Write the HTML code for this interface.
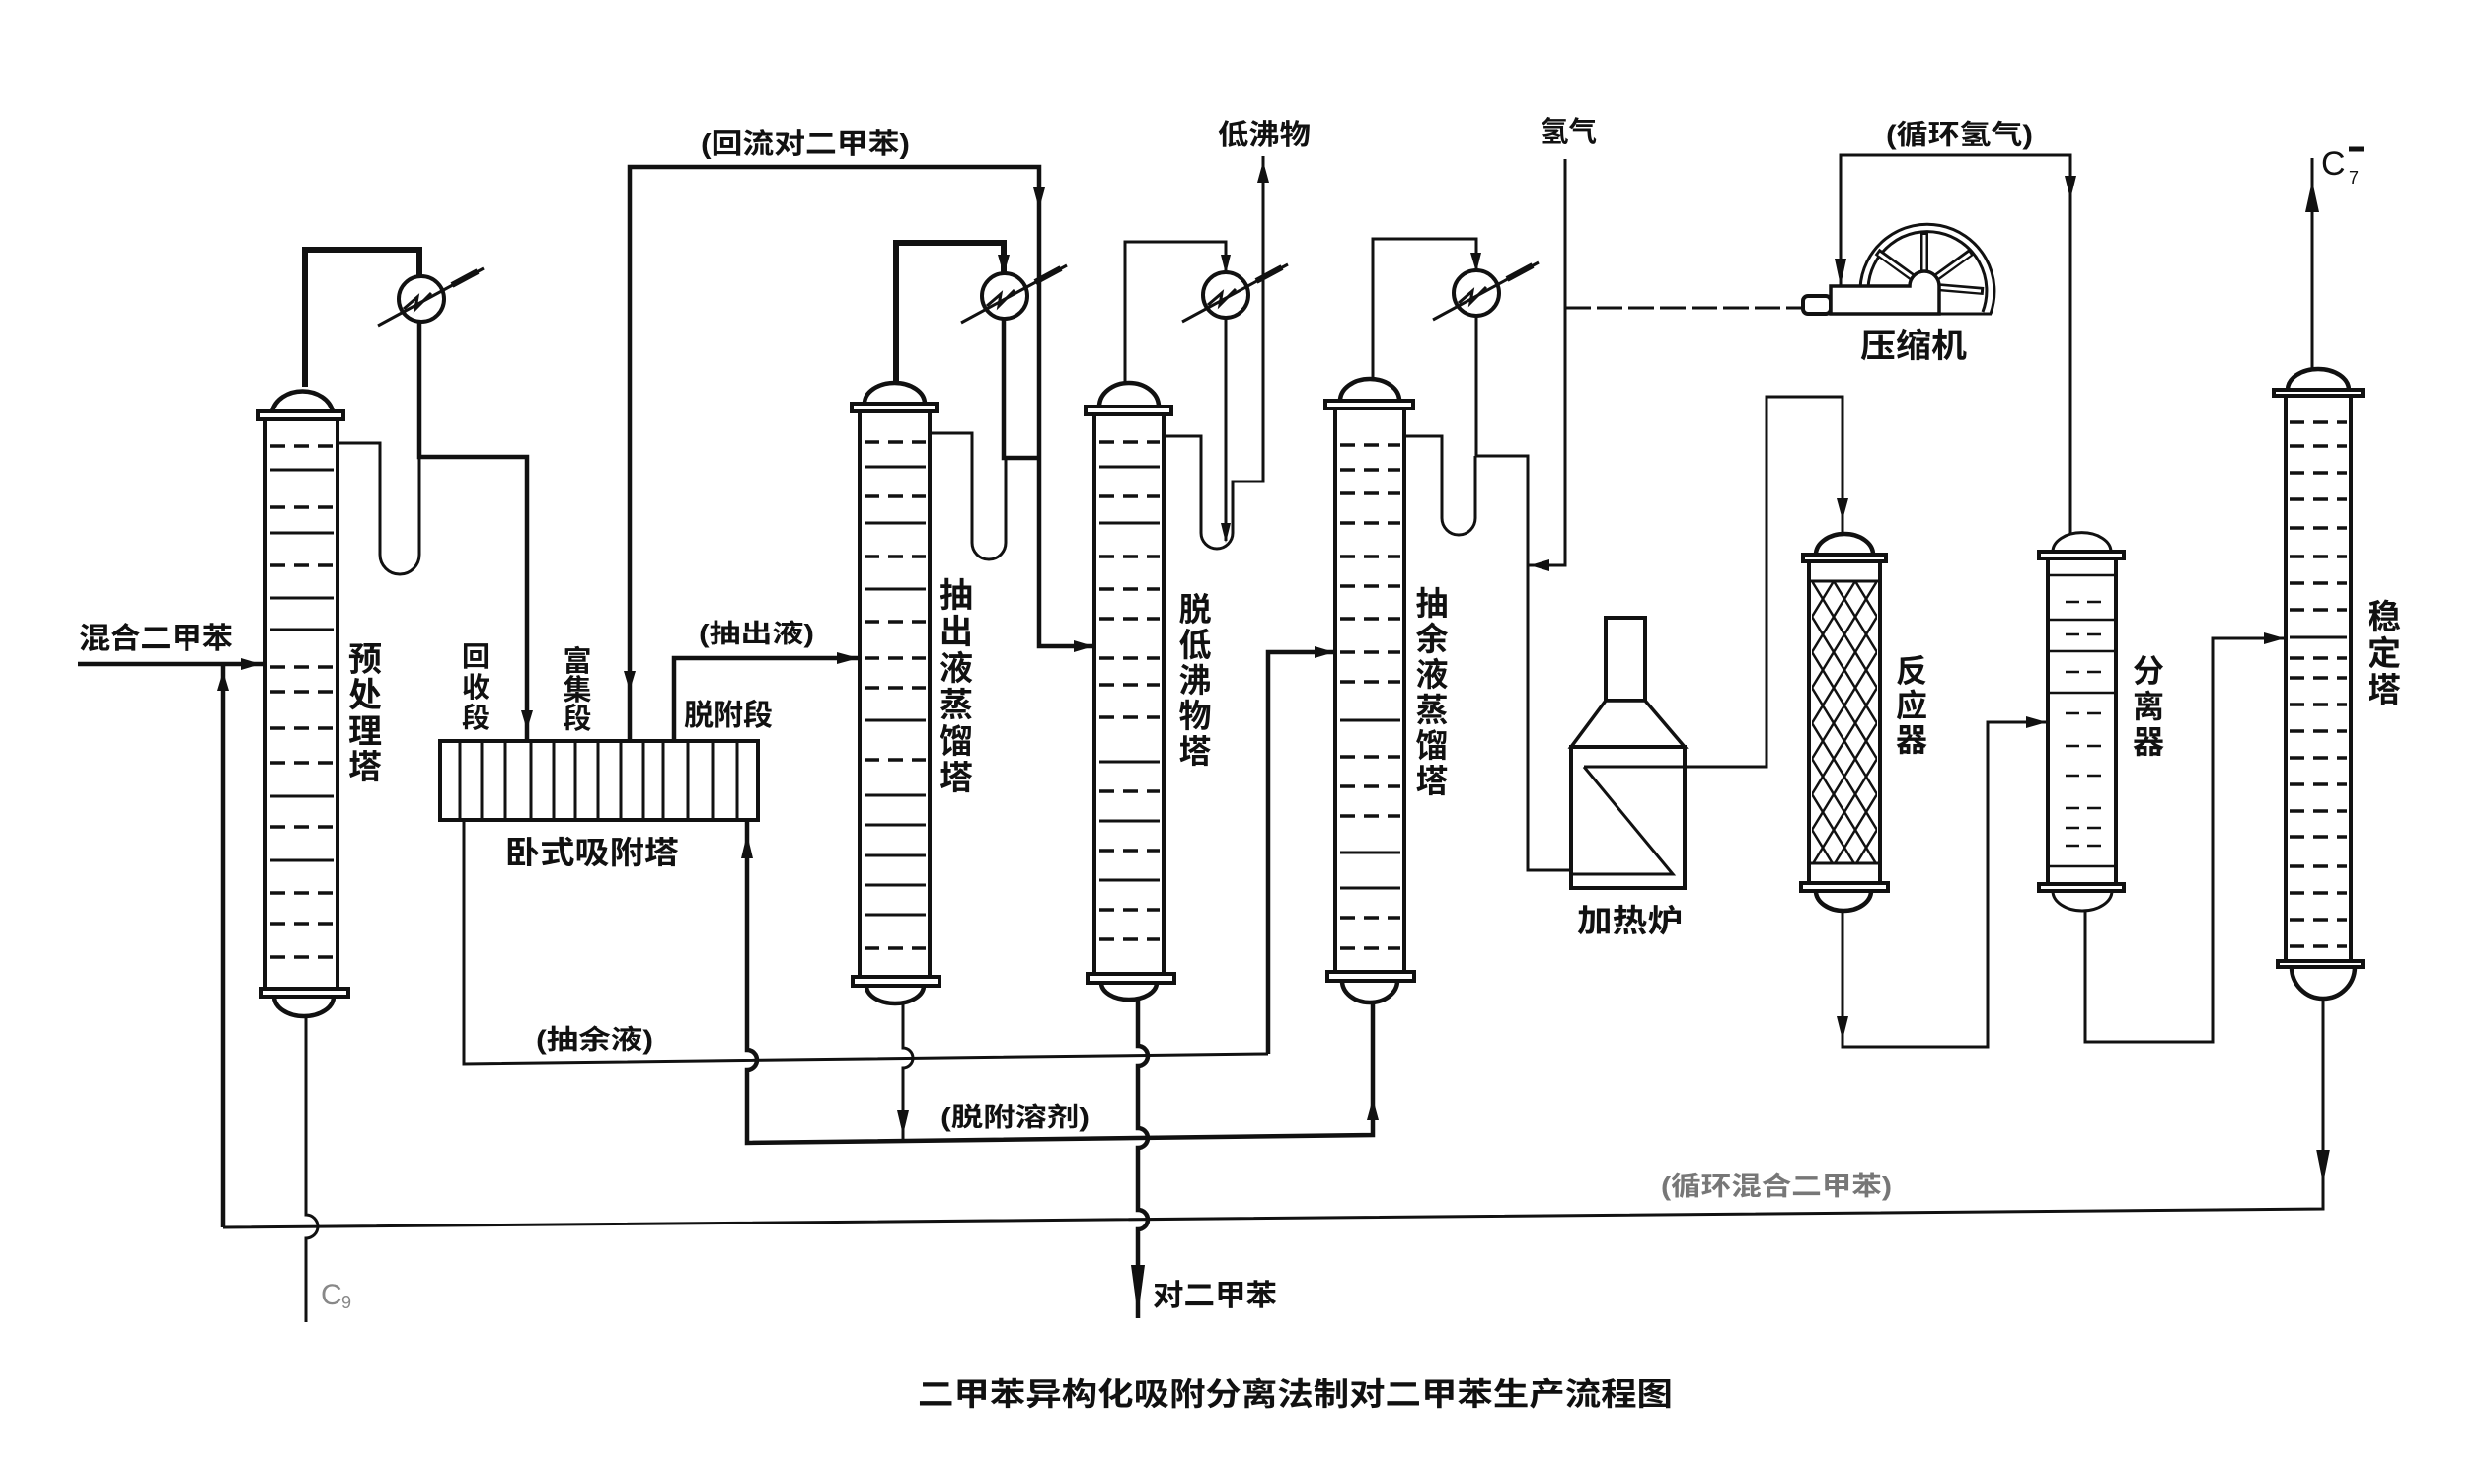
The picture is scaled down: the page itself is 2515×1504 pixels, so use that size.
<!DOCTYPE html>
<html><head><meta charset="utf-8"><style>
html,body{margin:0;padding:0;background:#fff;}
svg{display:block;}
text{font-family:"Liberation Sans","Noto Sans CJK SC",sans-serif;font-weight:700;fill:#111;}
.p{fill:none;stroke:#111;stroke-width:3;stroke-linejoin:miter;}
.k{fill:none;stroke:#111;stroke-width:6;}
.m{fill:none;stroke:#111;stroke-width:4.5;}
.c{fill:#fff;stroke:#111;stroke-width:4;}
.tr{stroke:#111;stroke-width:3.5;stroke-dasharray:15 9;}
.ts{stroke:#111;stroke-width:3;}
.a{fill:#111;}
</style></head><body>
<svg width="2515" height="1504" viewBox="0 0 2515 1504" xmlns="http://www.w3.org/2000/svg">
<defs>
<pattern id="mesh" width="22" height="36" patternUnits="userSpaceOnUse" x="1836" y="589">
<path d="M0,0 L22,36 M22,0 L0,36" stroke="#111" stroke-width="2.5" fill="none"/>
</pattern>
</defs>
<rect width="2515" height="1504" fill="#fff"/>

<!-- ===== Pipes ===== -->
<path class="k" d="M309,392 V253 H425 V280"/>
<path class="m" d="M425,326 V463 H534 V751"/>
<path class="p" d="M342,449 H385 V562 A20,20 0 0 0 425,562 V463"/>
<path class="m" d="M79,673 H269"/>
<path class="m" d="M226,1244 V673"/>
<path class="p" d="M310,1030 V1231 A12,12 0 0 1 310,1255 V1340" stroke-width="2.5"/>
<path class="m" d="M638,751 V169 H1053 V655 H1109"/>
<path class="m" d="M683,751 V667 H871"/>
<path class="k" d="M908,388 V246 H1017 V277"/>
<path class="m" d="M1017,323 V464 H1053"/>
<path class="p" d="M942,439 H985 V550 A17,17 0 0 0 1019,550 V464"/>
<path class="p" d="M1140,388 V245 H1242 V276"/>
<path class="p" d="M1242,322 V548"/>
<path class="p" d="M1179,442 H1217 V540 A16,16 0 0 0 1249,540 V488 H1280 V158"/>
<path class="p" d="M1391,384 V242 H1496 V274"/>
<path class="p" d="M1496,320 V462 H1548 V882 H1593"/>
<path class="p" d="M1423,442 H1461 V525 A17,17 0 0 0 1495,525 V462"/>
<path class="p" d="M1586,161 V573 H1548"/>
<path class="p" d="M1586,312 H1827" stroke-dasharray="26 6" stroke-width="2.5"/>
<path class="m" d="M1285,1068 V661 H1353" stroke-width="3.5"/>
<path class="p" d="M470,831 V1078 L1285,1068"/>
<path class="m" d="M757,831 V1064 A10,10 0 0 1 757,1084 V1158 L1391,1150 V1016" stroke-width="3.5"/>
<path class="p" d="M915,1017 V1062 A10,10 0 0 1 915,1082 V1155"/>
<path class="m" d="M1153,1013 V1060 A10,10 0 0 1 1153,1080 V1143 A10,10 0 0 1 1153,1163 V1226 A10,10 0 0 1 1153,1246 V1336" stroke-width="3"/>
<path class="p" d="M2354,1012 V1225 L226,1244" stroke-width="3.5"/>
<path class="p" d="M1707,777 H1790 V402 H1867 V541"/>
<path class="p" d="M1867,923 V1061 H2014 V732 H2075"/>
<path class="p" d="M2098,540 V157 H1865 V290"/>
<path class="p" d="M2113,923 V1056 H2242 V647 H2316"/>
<path class="p" d="M2343,374 V160"/>

<!-- ===== Arrows ===== -->
<polygon class="a" points="244,667 244,679 264,673"/>
<polygon class="a" points="220,700 232,700 226,680"/>
<polygon class="a" points="528,720 540,720 534,740"/>
<polygon class="a" points="632,680 644,680 638,700"/>
<polygon class="a" points="1047,190 1059,190 1053,212"/>
<polygon class="a" points="848,661 848,673 870,667"/>
<polygon class="a" points="1011,258 1023,258 1017,279"/>
<polygon class="a" points="1237,258 1247,258 1242,278"/>
<polygon class="a" points="1490,256 1501,256 1496,276"/>
<polygon class="a" points="1274,185 1286,185 1280,163"/>
<polygon class="a" points="1237,530 1247,530 1242,550"/>
<polygon class="a" points="1570,567 1570,579 1550,573"/>
<polygon class="a" points="1088,649 1088,661 1108,655"/>
<polygon class="a" points="1332,655 1332,667 1352,661"/>
<polygon class="a" points="1861,505 1873,505 1867,527"/>
<polygon class="a" points="2092,178 2104,178 2098,202"/>
<polygon class="a" points="1859,262 1871,262 1865,290"/>
<polygon class="a" points="1861,1030 1873,1030 1867,1054"/>
<polygon class="a" points="2053,726 2053,738 2074,732"/>
<polygon class="a" points="2294,641 2294,653 2315,647"/>
<polygon class="a" points="2336,215 2350,215 2343,183"/>
<polygon class="a" points="2347,1165 2361,1165 2354,1200"/>
<polygon class="a" points="1385,1135 1397,1135 1391,1113"/>
<polygon class="a" points="751,870 763,870 757,845"/>
<polygon class="a" points="909,1125 921,1125 915,1150"/>
<polygon class="a" points="1146,1282 1160,1282 1153,1334"/>

<!-- ===== Condensers ===== -->
<g>
<circle class="c" cx="427" cy="303" r="23"/>
<path class="p" d="M383,330 L490,272"/><path class="k" d="M458,289 L484,275"/>
<path class="p" d="M409,313 L423,301 L421,313 L437,297"/>
</g>
<g>
<circle class="c" cx="1018" cy="300" r="23"/>
<path class="p" d="M974,327 L1081,269"/><path class="k" d="M1049,286 L1075,272"/>
<path class="p" d="M1000,310 L1014,298 L1012,310 L1028,294"/>
</g>
<g>
<circle class="c" cx="1242" cy="299" r="23"/>
<path class="p" d="M1198,326 L1305,268"/><path class="k" d="M1273,285 L1299,271"/>
<path class="p" d="M1224,309 L1238,297 L1236,309 L1252,293"/>
</g>
<g>
<circle class="c" cx="1496" cy="297" r="23"/>
<path class="p" d="M1452,324 L1559,266"/><path class="k" d="M1527,283 L1553,269"/>
<path class="p" d="M1478,307 L1492,295 L1490,307 L1506,291"/>
</g>

<!-- ===== Column 1 ===== -->
<path class="m" d="M276,417 A31,25 0 0 1 337,417" fill="#fff"/>
<rect class="c" x="261" y="417" width="87" height="8"/>
<rect class="c" x="269" y="425" width="73" height="577"/>
<rect class="c" x="264" y="1002" width="89" height="8"/>
<path class="m" d="M278,1010 A30,20 0 0 0 338,1010"/>
<g>
<line class="tr" x1="274" x2="338" y1="452" y2="452"/><line class="ts" x1="274" x2="338" y1="476" y2="476"/>
<line class="tr" x1="274" x2="338" y1="514" y2="514"/><line class="ts" x1="274" x2="338" y1="540" y2="540"/>
<line class="tr" x1="274" x2="338" y1="573" y2="573"/><line class="ts" x1="274" x2="338" y1="606" y2="606"/>
<line class="ts" x1="274" x2="338" y1="638" y2="638"/><line class="tr" x1="274" x2="338" y1="676" y2="676"/>
<line class="tr" x1="274" x2="338" y1="701" y2="701"/><line class="tr" x1="274" x2="338" y1="738" y2="738"/>
<line class="tr" x1="274" x2="338" y1="773" y2="773"/><line class="ts" x1="274" x2="338" y1="807" y2="807"/>
<line class="tr" x1="274" x2="338" y1="838" y2="838"/><line class="ts" x1="274" x2="338" y1="872" y2="872"/>
<line class="tr" x1="274" x2="338" y1="905" y2="905"/><line class="tr" x1="274" x2="338" y1="936" y2="936"/>
<line class="tr" x1="274" x2="338" y1="970" y2="970"/>
</g>

<!-- ===== Column 2 ===== -->
<path class="m" d="M876,409 A30.5,21 0 0 1 937,409" fill="#fff"/>
<rect class="c" x="863" y="409" width="86" height="8"/>
<rect class="c" x="871" y="417" width="71" height="573"/>
<rect class="c" x="864" y="990" width="88" height="9"/>
<path class="m" d="M878,999 A29,18 0 0 0 936,999"/>
<g>
<line class="tr" x1="876" x2="938" y1="448" y2="448"/><line class="ts" x1="876" x2="938" y1="473" y2="473"/>
<line class="tr" x1="876" x2="938" y1="503" y2="503"/><line class="ts" x1="876" x2="938" y1="530" y2="530"/>
<line class="tr" x1="876" x2="938" y1="564" y2="564"/><line class="ts" x1="876" x2="938" y1="597" y2="597"/>
<line class="tr" x1="876" x2="938" y1="630" y2="630"/><line class="tr" x1="876" x2="938" y1="667" y2="667"/>
<line class="tr" x1="876" x2="938" y1="697" y2="697"/><line class="ts" x1="876" x2="938" y1="730" y2="730"/>
<line class="tr" x1="876" x2="938" y1="770" y2="770"/><line class="ts" x1="876" x2="938" y1="806" y2="806"/>
<line class="ts" x1="876" x2="938" y1="836" y2="836"/><line class="ts" x1="876" x2="938" y1="867" y2="867"/>
<line class="ts" x1="876" x2="938" y1="897" y2="897"/><line class="ts" x1="876" x2="938" y1="927" y2="927"/>
<line class="tr" x1="876" x2="938" y1="961" y2="961"/>
</g>

<!-- ===== Column 3 ===== -->
<path class="m" d="M1114,412 A30,24 0 0 1 1174,412" fill="#fff"/>
<rect class="c" x="1100" y="412" width="87" height="8"/>
<rect class="c" x="1109" y="420" width="70" height="567"/>
<rect class="c" x="1102" y="987" width="88" height="9"/>
<path class="m" d="M1116,996 A28,17 0 0 0 1172,996"/>
<g>
<line class="tr" x1="1114" x2="1175" y1="448" y2="448"/><line class="ts" x1="1114" x2="1175" y1="473" y2="473"/>
<line class="tr" x1="1114" x2="1175" y1="503" y2="503"/><line class="ts" x1="1114" x2="1175" y1="530" y2="530"/>
<line class="tr" x1="1114" x2="1175" y1="564" y2="564"/><line class="tr" x1="1114" x2="1175" y1="597" y2="597"/>
<line class="tr" x1="1114" x2="1175" y1="627" y2="627"/><line class="tr" x1="1114" x2="1175" y1="667" y2="667"/>
<line class="tr" x1="1114" x2="1175" y1="694" y2="694"/><line class="tr" x1="1114" x2="1175" y1="727" y2="727"/>
<line class="ts" x1="1114" x2="1175" y1="772" y2="772"/><line class="tr" x1="1114" x2="1175" y1="802" y2="802"/>
<line class="ts" x1="1114" x2="1175" y1="832" y2="832"/><line class="tr" x1="1114" x2="1175" y1="862" y2="862"/>
<line class="ts" x1="1114" x2="1175" y1="892" y2="892"/><line class="tr" x1="1114" x2="1175" y1="922" y2="922"/>
<line class="tr" x1="1114" x2="1175" y1="952" y2="952"/>
</g>

<!-- ===== Column 4 ===== -->
<path class="m" d="M1358,406 A30,22 0 0 1 1418,406" fill="#fff"/>
<rect class="c" x="1343" y="406" width="89" height="8"/>
<rect class="c" x="1353" y="414" width="70" height="571"/>
<rect class="c" x="1345" y="985" width="88" height="9"/>
<path class="m" d="M1360,994 A28,22 0 0 0 1416,994"/>
<g>
<line class="tr" x1="1358" x2="1419" y1="451" y2="451"/><line class="tr" x1="1358" x2="1419" y1="476" y2="476"/>
<line class="tr" x1="1358" x2="1419" y1="500" y2="500"/><line class="tr" x1="1358" x2="1419" y1="530" y2="530"/>
<line class="tr" x1="1358" x2="1419" y1="564" y2="564"/><line class="tr" x1="1358" x2="1419" y1="594" y2="594"/>
<line class="tr" x1="1358" x2="1419" y1="627" y2="627"/><line class="tr" x1="1358" x2="1419" y1="661" y2="661"/>
<line class="tr" x1="1358" x2="1419" y1="691" y2="691"/><line class="ts" x1="1358" x2="1419" y1="730" y2="730"/>
<line class="tr" x1="1358" x2="1419" y1="767" y2="767"/><line class="tr" x1="1358" x2="1419" y1="797" y2="797"/>
<line class="tr" x1="1358" x2="1419" y1="827" y2="827"/><line class="ts" x1="1358" x2="1419" y1="864" y2="864"/>
<line class="ts" x1="1358" x2="1419" y1="900" y2="900"/><line class="tr" x1="1358" x2="1419" y1="930" y2="930"/>
<line class="tr" x1="1358" x2="1419" y1="961" y2="961"/>
</g>

<!-- ===== Adsorber ===== -->
<rect class="c" x="446" y="751" width="322" height="80"/>
<g stroke="#111" stroke-width="3">
<line x1="466" x2="466" y1="751" y2="831"/><line x1="488" x2="488" y1="751" y2="831"/>
<line x1="512" x2="512" y1="751" y2="831"/><line x1="538" x2="538" y1="751" y2="831"/>
<line x1="561" x2="561" y1="751" y2="831"/><line x1="583" x2="583" y1="751" y2="831"/>
<line x1="606" x2="606" y1="751" y2="831"/><line x1="629" x2="629" y1="751" y2="831"/>
<line x1="652" x2="652" y1="751" y2="831"/><line x1="672" x2="672" y1="751" y2="831"/>
<line x1="697" x2="697" y1="751" y2="831"/><line x1="722" x2="722" y1="751" y2="831"/>
<line x1="747" x2="747" y1="751" y2="831"/>
</g>

<!-- ===== Compressor ===== -->
<rect class="c" x="1827" y="300" width="28" height="18" rx="5" stroke-width="3"/>
<path class="p" d="M1885,292 A68,68 0 1 1 2017,318" stroke-width="4"/>
<path class="p" d="M1893,292 A60,60 0 1 1 2009,316" stroke-width="3"/>
<g stroke-linecap="butt">
<line x1="1950" y1="290" x2="1902" y2="255" stroke="#111" stroke-width="8"/>
<line x1="1950" y1="290" x2="1950" y2="235" stroke="#111" stroke-width="8"/>
<line x1="1950" y1="290" x2="1998" y2="255" stroke="#111" stroke-width="8"/>
<line x1="1950" y1="290" x2="2010" y2="295" stroke="#111" stroke-width="8"/>
<line x1="1950" y1="290" x2="1904" y2="257" stroke="#fff" stroke-width="3"/>
<line x1="1950" y1="290" x2="1950" y2="238" stroke="#fff" stroke-width="3"/>
<line x1="1950" y1="290" x2="1996" y2="257" stroke="#fff" stroke-width="3"/>
<line x1="1950" y1="290" x2="2007" y2="295" stroke="#fff" stroke-width="3"/>
</g>
<path d="M1855,318 V290 H1935 A15,15 0 0 1 1965,290 V318 Z" fill="#fff" stroke="#111" stroke-width="3.5"/>
<path class="p" d="M1855,318 H2018" stroke-width="4"/>

<!-- ===== Furnace ===== -->
<rect class="c" x="1627" y="626" width="40" height="84" stroke-width="3.5"/>
<polygon points="1627,710 1667,710 1707,757 1592,757" fill="#fff" stroke="#111" stroke-width="3.5"/>
<rect class="c" x="1592" y="757" width="115" height="143" stroke-width="3.5"/>
<path class="p" d="M1605,777 H1707 M1605,777 L1695,886 H1594"/>

<!-- ===== Reactor ===== -->
<path class="m" d="M1840,562 A29,21 0 0 1 1898,562" fill="#fff"/>
<rect class="c" x="1827" y="562" width="84" height="7"/>
<rect class="c" x="1833" y="569" width="72" height="326"/>
<rect x="1836" y="589" width="66" height="286" fill="url(#mesh)"/>
<line class="ts" x1="1833" x2="1905" y1="589" y2="589"/>
<line class="ts" x1="1833" x2="1905" y1="875" y2="875" stroke-width="4"/>
<rect class="c" x="1825" y="895" width="88" height="8"/>
<path class="m" d="M1840,903 A28,20 0 0 0 1896,903"/>

<!-- ===== Separator ===== -->
<path class="p" d="M2080,559 A29,19 0 0 1 2139,559" fill="#fff" stroke-width="3.5"/>
<rect class="c" x="2066" y="559" width="86" height="7" stroke-width="3"/>
<rect class="c" x="2075" y="566" width="69" height="330" stroke-width="3"/>
<rect class="c" x="2066" y="896" width="86" height="7" stroke-width="3"/>
<path class="p" d="M2080,903 A30,20 0 0 0 2140,903"/>
<g stroke="#111">
<line x1="2076" x2="2143" y1="583" y2="583" stroke-width="2.5"/>
<line x1="2076" x2="2143" y1="628" y2="628" stroke-width="2.5"/>
<line x1="2076" x2="2143" y1="660" y2="660" stroke-width="2.5"/>
<line x1="2076" x2="2143" y1="702" y2="702" stroke-width="2.5"/>
<line x1="2076" x2="2143" y1="878" y2="878" stroke-width="2.5"/>
<g stroke-width="2.5" stroke-dasharray="14 8">
<line x1="2093" x2="2129" y1="610" y2="610"/><line x1="2093" x2="2129" y1="643" y2="643"/>
<line x1="2093" x2="2129" y1="681" y2="681"/><line x1="2093" x2="2129" y1="723" y2="723"/>
<line x1="2093" x2="2129" y1="756" y2="756"/><line x1="2093" x2="2129" y1="786" y2="786"/>
<line x1="2093" x2="2129" y1="819" y2="819"/><line x1="2093" x2="2129" y1="839" y2="839"/>
<line x1="2093" x2="2129" y1="857" y2="857"/>
</g>
</g>

<!-- ===== Stabilizer ===== -->
<path class="m" d="M2318,395 A31,21 0 0 1 2380,395" fill="#fff"/>
<rect class="c" x="2304" y="395" width="90" height="6"/>
<rect class="c" x="2316" y="401" width="66" height="573" stroke-width="3.5"/>
<rect class="c" x="2308" y="974" width="86" height="6"/>
<path class="m" d="M2322,980 A32,32 0 0 0 2386,980"/>
<g>
<line class="tr" x1="2320" x2="2378" y1="428" y2="428"/><line class="tr" x1="2320" x2="2378" y1="452" y2="452"/>
<line class="tr" x1="2320" x2="2378" y1="479" y2="479"/><line class="tr" x1="2320" x2="2378" y1="506" y2="506"/>
<line class="tr" x1="2320" x2="2378" y1="535" y2="535"/><line class="tr" x1="2320" x2="2378" y1="564" y2="564"/>
<line class="tr" x1="2320" x2="2378" y1="591" y2="591"/><line class="tr" x1="2320" x2="2378" y1="618" y2="618"/>
<line class="ts" x1="2320" x2="2378" y1="646" y2="646"/><line class="tr" x1="2320" x2="2378" y1="667" y2="667"/>
<line class="tr" x1="2320" x2="2378" y1="687" y2="687"/><line class="tr" x1="2320" x2="2378" y1="714" y2="714"/>
<line class="tr" x1="2320" x2="2378" y1="741" y2="741"/><line class="tr" x1="2320" x2="2378" y1="768" y2="768"/>
<line class="tr" x1="2320" x2="2378" y1="795" y2="795"/><line class="tr" x1="2320" x2="2378" y1="822" y2="822"/>
<line class="tr" x1="2320" x2="2378" y1="848" y2="848"/><line class="tr" x1="2320" x2="2378" y1="878" y2="878"/>
<line class="tr" x1="2320" x2="2378" y1="905" y2="905"/><line class="tr" x1="2320" x2="2378" y1="932" y2="932"/>
<line class="tr" x1="2320" x2="2378" y1="959" y2="959"/>
</g>

<!-- ===== Labels ===== -->
<text x="80" y="657" font-size="30" textLength="156" lengthAdjust="spacingAndGlyphs">混合二甲苯</text>
<g font-size="34" text-anchor="middle">
<text x="370" y="680">预</text><text x="370" y="716">处</text><text x="370" y="753">理</text><text x="370" y="789">塔</text>
</g>
<g font-size="28" text-anchor="middle" style="font-weight:400">
<text x="482" y="675">回</text><text x="482" y="706">收</text><text x="482" y="737">段</text>
</g>
<g font-size="29" text-anchor="middle">
<text x="585" y="680">富</text><text x="585" y="709">集</text><text x="585" y="738">段</text>
</g>
<text x="693" y="735" font-size="30" textLength="90" lengthAdjust="spacingAndGlyphs">脱附段</text>
<text x="708" y="651" font-size="26" textLength="117" lengthAdjust="spacingAndGlyphs">(抽出液)</text>
<text x="512" y="875" font-size="32" textLength="176" lengthAdjust="spacingAndGlyphs">卧式吸附塔</text>
<text x="710" y="155" font-size="28" textLength="212" lengthAdjust="spacingAndGlyphs">(回流对二甲苯)</text>
<text x="1234" y="146" font-size="28" textLength="94" lengthAdjust="spacingAndGlyphs">低沸物</text>
<text x="1561" y="143" font-size="28" textLength="57" lengthAdjust="spacingAndGlyphs">氢气</text>
<text x="1911" y="146" font-size="27" textLength="149" lengthAdjust="spacingAndGlyphs">(循环氢气)</text>
<text x="1885" y="362" font-size="34" textLength="108" lengthAdjust="spacingAndGlyphs">压缩机</text>
<g font-size="34" text-anchor="middle">
<text x="969" y="615">抽</text><text x="969" y="652">出</text><text x="969" y="689">液</text><text x="969" y="726">蒸</text><text x="969" y="763">馏</text><text x="969" y="800">塔</text>
</g>
<g font-size="33" text-anchor="middle">
<text x="1211" y="629">脱</text><text x="1211" y="665">低</text><text x="1211" y="701">沸</text><text x="1211" y="737">物</text><text x="1211" y="773">塔</text>
</g>
<g font-size="33" text-anchor="middle">
<text x="1451" y="623">抽</text><text x="1451" y="659">余</text><text x="1451" y="695">液</text><text x="1451" y="731">蒸</text><text x="1451" y="767">馏</text><text x="1451" y="803">塔</text>
</g>
<text x="1598" y="944" font-size="32" textLength="107" lengthAdjust="spacingAndGlyphs">加热炉</text>
<g font-size="32" text-anchor="middle" style="font-weight:400">
<text x="1937" y="691">反</text><text x="1937" y="726">应</text><text x="1937" y="761">器</text>
<text x="2177" y="691">分</text><text x="2177" y="727">离</text><text x="2177" y="763">器</text>
</g>
<g font-size="34" text-anchor="middle">
<text x="2416" y="637">稳</text><text x="2416" y="674">定</text><text x="2416" y="711">塔</text>
</g>
<text x="2352" y="177" font-size="34" style="font-weight:400">C</text>
<text x="2380" y="186" font-size="18" style="font-weight:400">7</text>
<line x1="2380" y1="151" x2="2395" y2="151" stroke="#111" stroke-width="5"/>
<text x="543" y="1063" font-size="27" textLength="119" lengthAdjust="spacingAndGlyphs">(抽余液)</text>
<text x="953" y="1141" font-size="26" textLength="151" lengthAdjust="spacingAndGlyphs">(脱附溶剂)</text>
<text x="1168" y="1323" font-size="30" textLength="126" lengthAdjust="spacingAndGlyphs">对二甲苯</text>
<text x="325" y="1322" font-size="30" style="fill:#888;font-weight:400">C</text>
<text x="346" y="1326" font-size="18" style="fill:#888;font-weight:400">9</text>
<text x="1683" y="1211" font-size="26" textLength="234" lengthAdjust="spacingAndGlyphs" style="fill:#777">(循环混合二甲苯)</text>
<text x="930" y="1424" font-size="32" textLength="765" lengthAdjust="spacingAndGlyphs">二甲苯异构化吸附分离法制对二甲苯生产流程图</text>
</svg>
</body></html>
